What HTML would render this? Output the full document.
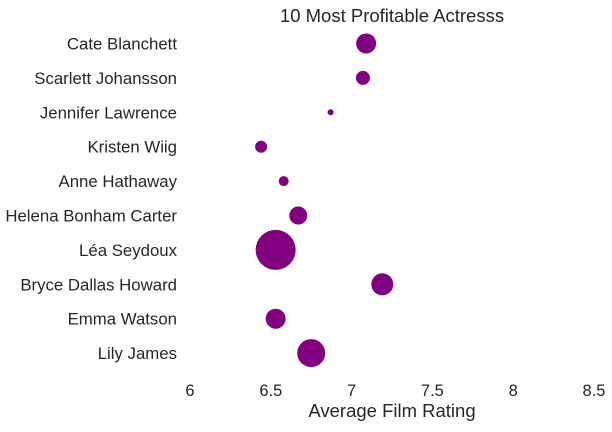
<!DOCTYPE html>
<html><head><meta charset="utf-8"><style>
body{margin:0;background:#fff;}
svg text{font-family:"Liberation Sans",sans-serif;fill:#262626;}
</style></head><body>
<svg id="chart" width="612" height="427"></svg>
<script>
const actresses=["Cate Blanchett","Scarlett Johansson","Jennifer Lawrence","Kristen Wiig","Anne Hathaway","Helena Bonham Carter","Léa Seydoux","Bryce Dallas Howard","Emma Watson","Lily James"];
const ratings=[7.09,7.07,6.87,6.44,6.58,6.67,6.53,7.19,6.53,6.75];
const sizes=[100,49,9,36,25,81,400,121,100,196];
const xTicks=[6,6.5,7,7.5,8,8.5];
const xTickLabels=["6","6.5","7","7.5","8","8.5"];
const svg=document.getElementById('chart');
const NS='http://www.w3.org/2000/svg';
const x0=190,x1=594,y0=43.5,dy=34.4;
const xs=v=>x0+(v-6)/(8.5-6)*(x1-x0);
const ys=i=>y0+i*dy;
const rs=s=>Math.sqrt(s);
function mk(t,a,txt){const e=document.createElementNS(NS,t);for(const k in a)e.setAttribute(k,a[k]);if(txt!=null)e.textContent=txt;svg.appendChild(e);return e;}
let t=mk('text',{x:392,y:22,'text-anchor':'middle','font-size':18.5},'10 Most Profitable Actresss');


t=mk('text',{x:392,y:417,'text-anchor':'middle','font-size':18.5},'Average Film Rating');


xTicks.forEach((v,i)=>{
  const e=mk('text',{x:xs(v),y:396,'text-anchor':'middle','font-size':16.5},xTickLabels[i]);
  
  
});
actresses.forEach((n,i)=>{
  const e=mk('text',{x:177,y:ys(i)+6,'text-anchor':'end','font-size':16.8},n);
  
  
  const c=mk('circle',{cx:xs(ratings[i]),cy:ys(i),r:rs(sizes[i]),fill:'#800080'});
  
  
});
</script>
</body></html>
